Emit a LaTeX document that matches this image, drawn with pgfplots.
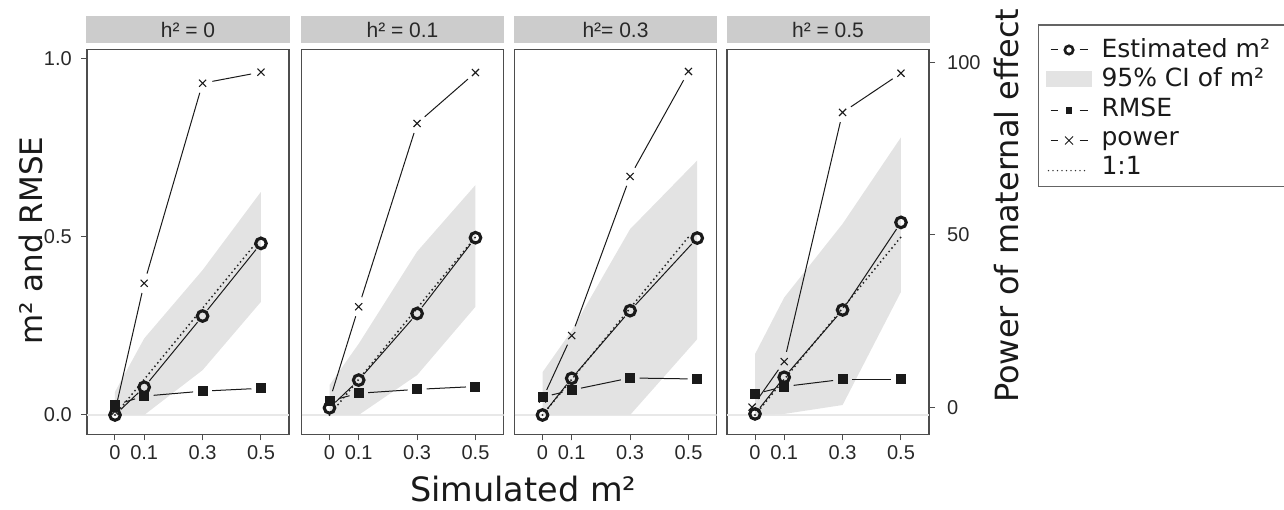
\documentclass[border=0pt]{standalone}
\usepackage{fontspec}
\setmainfont{Liberation Sans}
\newfontfamily\dejavu{DejaVu Sans}
\usepackage{pgfplots}
\pgfplotsset{compat=1.18}

\definecolor{cFrame}{RGB}{77,77,77}
\definecolor{cStrip}{RGB}{204,204,204}
\definecolor{cRibbon}{RGB}{227,227,227}
\definecolor{cInk}{RGB}{26,26,26}
\definecolor{cTick}{RGB}{40,40,40}
\definecolor{cZero}{RGB}{232,232,232}
\definecolor{cBox}{RGB}{100,100,100}

% three segments between four points, each one shortened at both ends
\newcommand{\chain}[5]{%
  \addplot[#1] coordinates {(#2) (#3)};
  \addplot[#1] coordinates {(#3) (#4)};
  \addplot[#1] coordinates {(#4) (#5)};
}

\pgfplotsset{
  panel/.style={
    scale only axis, width=202pt, height=385pt,
    xmin=-0.0959, xmax=0.596, ymin=-0.0548, ymax=1.0267,
    axis line style={cFrame, line width=1.1pt},
    tick style={cFrame, line width=1pt},
    major tick length=6pt,
    tick align=outside,
    xtick={0,0.1,0.3,0.5}, xticklabels={0,0.1,0.3,0.5},
    xtick pos=bottom,
    ytick=\empty,
    tick label style={font=\fontsize{20}{24}\selectfont, text=cTick, inner sep=0pt},
    xticklabel shift=4.5pt,
    title style={at={(0.5,1)}, anchor=south, yshift=0.5pt, fill=cStrip,
      minimum width=203pt, minimum height=26.5pt, inner sep=0pt,
      font=\fontsize{21}{25}\selectfont, text=cTick},
  },
  ribbon/.style={fill=cRibbon, draw=none, forget plot},
  oneone/.style={black!85, line width=2.1pt, line cap=round,
    dash pattern=on 0pt off 4.5pt, forget plot},
  estline/.style={cInk, line width=1pt, shorten <=8pt, shorten >=8pt, forget plot},
  rmseline/.style={cInk, line width=1pt, shorten <=9.5pt, shorten >=9.5pt, forget plot},
  powline/.style={cInk, line width=1pt, shorten <=10pt, shorten >=10pt, forget plot},
  estmark/.style={only marks, mark=o, mark size=5.3pt,
    mark options={cInk, line width=3.1pt}, forget plot},
  rmsemark/.style={only marks, mark=square*, mark size=4.5pt,
    mark options={cInk, fill=cInk, line width=0pt}, forget plot},
  powmark/.style={only marks, mark=x, mark size=5pt,
    mark options={cInk, line width=1.1pt}, forget plot},
}

\newcommand{\zeroline}{%
  \draw[cZero, line width=1.2pt]
    ({rel axis cs:0,0}|-{axis cs:0,0}) -- ({rel axis cs:1,0}|-{axis cs:0,0});}

\begin{document}
\begin{tikzpicture}[x=1pt,y=1pt]
\useasboundingbox (0,0) rectangle (1284,510);

% ---- h2 = 0
\begin{axis}[panel, at={(87pt,75.5pt)}, anchor=south west, title={h² = 0},
  ytick={0,0.5,1}, yticklabels={0.0,0.5,1.0}, ytick pos=left, yticklabel shift=9pt]
\zeroline
\addplot[ribbon] coordinates {(0,0.065) (0.1,0.215) (0.3,0.407) (0.5,0.627)
  (0.5,0.318) (0.3,0.126) (0.1,0) (0,0)};
\addplot[oneone] coordinates {(0,0) (0.5,0.5)};
\chain{rmseline}{0,0.028}{0.1,0.053}{0.3,0.067}{0.5,0.075}
\addplot[rmsemark] coordinates {(0,0.028) (0.1,0.053) (0.3,0.067) (0.5,0.075)};
\chain{powline}{0,0.01}{0.1,0.37}{0.3,0.932}{0.5,0.963}
\addplot[powmark] coordinates {(0,0.01) (0.1,0.37) (0.3,0.932) (0.5,0.963)};
\chain{estline}{0,0}{0.1,0.078}{0.3,0.278}{0.5,0.482}
\addplot[estmark] coordinates {(0,0) (0.1,0.078) (0.3,0.278) (0.5,0.482)};
\end{axis}

% ---- h2 = 0.1
\begin{axis}[panel, at={(301.5pt,75.5pt)}, anchor=south west, title={h² = 0.1}]
\zeroline
\addplot[ribbon] coordinates {(0,0.084) (0.1,0.2) (0.3,0.459) (0.5,0.646)
  (0.5,0.304) (0.3,0.112) (0.1,0) (0,0)};
\addplot[oneone] coordinates {(0,0) (0.5,0.5)};
\chain{rmseline}{0,0.039}{0.1,0.061}{0.3,0.072}{0.5,0.08}
\addplot[rmsemark] coordinates {(0,0.039) (0.1,0.061) (0.3,0.072) (0.5,0.08)};
\chain{powline}{0,0.04}{0.1,0.304}{0.3,0.819}{0.5,0.962}
\addplot[powmark] coordinates {(0,0.04) (0.1,0.304) (0.3,0.819) (0.5,0.962)};
\chain{estline}{0,0.02}{0.1,0.098}{0.3,0.285}{0.5,0.498}
\addplot[estmark] coordinates {(0,0.02) (0.1,0.098) (0.3,0.285) (0.5,0.498)};
\end{axis}

% ---- h2 = 0.3
\begin{axis}[panel, at={(514.5pt,75.5pt)}, anchor=south west, title={h²= 0.3}]
\zeroline
\addplot[ribbon] coordinates {(0,0.12) (0.1,0.237) (0.3,0.522) (0.53,0.715)
  (0.53,0.213) (0.3,0) (0.1,0) (0,0)};
\addplot[oneone] coordinates {(0,0) (0.5,0.5)};
\chain{rmseline}{0,0.05}{0.1,0.07}{0.3,0.104}{0.53,0.101}
\addplot[rmsemark] coordinates {(0,0.05) (0.1,0.07) (0.3,0.104) (0.53,0.101)};
\chain{powline}{0,0.045}{0.1,0.223}{0.3,0.67}{0.5,0.965}
\addplot[powmark] coordinates {(0,0.045) (0.1,0.223) (0.3,0.67) (0.5,0.965)};
\chain{estline}{0,0}{0.1,0.103}{0.3,0.293}{0.53,0.497}
\addplot[estmark] coordinates {(0,0) (0.1,0.103) (0.3,0.293) (0.53,0.497)};
\end{axis}

% ---- h2 = 0.5, with the power scale on the right
\begin{axis}[panel, at={(727pt,75.5pt)}, anchor=south west, title={h² = 0.5},
  ytick={0.0205,0.5056,0.9896}, yticklabels={0,50,100}, ytick pos=right,
  yticklabel style={anchor=west}, yticklabel shift=12pt,
  legend style={at={(1.5767,1.02909)}, anchor=north west, draw=none, fill=none,
    inner sep=0pt, outer sep=0pt, font=\dejavu\fontsize{25}{30}\selectfont,
    text=cInk, row sep=4.4pt, column sep=10pt,
    nodes={inner sep=0pt, text height=19pt, text depth=6pt}},
  legend cell align=left]
\addlegendimage{legend image code/.code={
  \path[draw=none, fill=none] (0pt,-10pt) rectangle (46pt,10pt);
  \draw[cInk, line width=1pt] (5pt,0.8pt) -- (12pt,0.8pt);
  \draw[cInk, line width=2.6pt] (23.5pt,0.8pt) circle[radius=4.2pt];
  \draw[cInk, line width=1pt] (34pt,0.8pt) -- (42pt,0.8pt);}}
\addlegendimage{legend image code/.code={
  \path[draw=none, fill=none] (0pt,-10pt) rectangle (46pt,10pt);
  \fill[cRibbon, draw=none] (0pt,-7.1pt) rectangle (46pt,9.5pt);}}
\addlegendimage{legend image code/.code={
  \path[draw=none, fill=none] (0pt,-10pt) rectangle (46pt,10pt);
  \draw[cInk, line width=1pt] (5pt,-0.8pt) -- (12pt,-0.8pt);
  \fill[cInk, draw=none] (20pt,-4.1pt) rectangle (26.7pt,2.5pt);
  \draw[cInk, line width=1pt] (34pt,-0.8pt) -- (42pt,-0.8pt);}}
\addlegendimage{legend image code/.code={
  \path[draw=none, fill=none] (0pt,-10pt) rectangle (46pt,10pt);
  \draw[cInk, line width=1pt] (5pt,-1.5pt) -- (12pt,-1.5pt);
  \draw[cInk, line width=1pt] (19.5pt,-5.5pt) -- (27.5pt,2.5pt)
    (19.5pt,2.5pt) -- (27.5pt,-5.5pt);
  \draw[cInk, line width=1pt] (34pt,-1.5pt) -- (42pt,-1.5pt);}}
\addlegendimage{legend image code/.code={
  \path[draw=none, fill=none] (0pt,-10pt) rectangle (46pt,10pt);
  \draw[black!80, line width=1.6pt, line cap=round, dash pattern=on 0pt off 4.5pt]
    (3pt,-2.2pt) -- (43pt,-2.2pt);}}
\zeroline
\addplot[ribbon] coordinates {(0,0.171) (0.1,0.33) (0.3,0.537) (0.5,0.78)
  (0.5,0.346) (0.3,0.028) (0.1,0.003) (0,0)};
\addplot[oneone] coordinates {(0,0) (0.5,0.5)};
\chain{rmseline}{0,0.059}{0.1,0.08}{0.3,0.1}{0.5,0.1}
\addplot[rmsemark] coordinates {(0,0.059) (0.1,0.08) (0.3,0.1) (0.5,0.1)};
\chain{powline}{-0.01,0.022}{0.1,0.15}{0.3,0.85}{0.5,0.96}
\addplot[powmark] coordinates {(-0.01,0.022) (0.1,0.15) (0.3,0.85) (0.5,0.96)};
\chain{estline}{0,0.003}{0.1,0.106}{0.3,0.295}{0.5,0.541}
\addplot[estmark] coordinates {(0,0.003) (0.1,0.106) (0.3,0.295) (0.5,0.541)};
\legend{Estimated m², 95\% CI of m², RMSE, power, 1:1}
\end{axis}

% legend frame, open on the right as in the reference
\draw[cBox, line width=1.2pt] (1038.7,323.3) rectangle (1296,485);

% axis titles
\node[rotate=90, anchor=base west, inner sep=0pt, text=cInk,
  font=\dejavu\fontsize{31}{36}\selectfont] at (42,165) {m² and RMSE};
\node[anchor=base west, inner sep=0pt, text=cInk,
  font=\dejavu\fontsize{33.5}{38}\selectfont] at (410,8) {Simulated m²};
\node[rotate=90, anchor=base west, inner sep=0pt, text=cInk,
  font=\dejavu\fontsize{32}{38}\selectfont] at (1018,107) {Power of maternal effect};
\end{tikzpicture}
\end{document}
